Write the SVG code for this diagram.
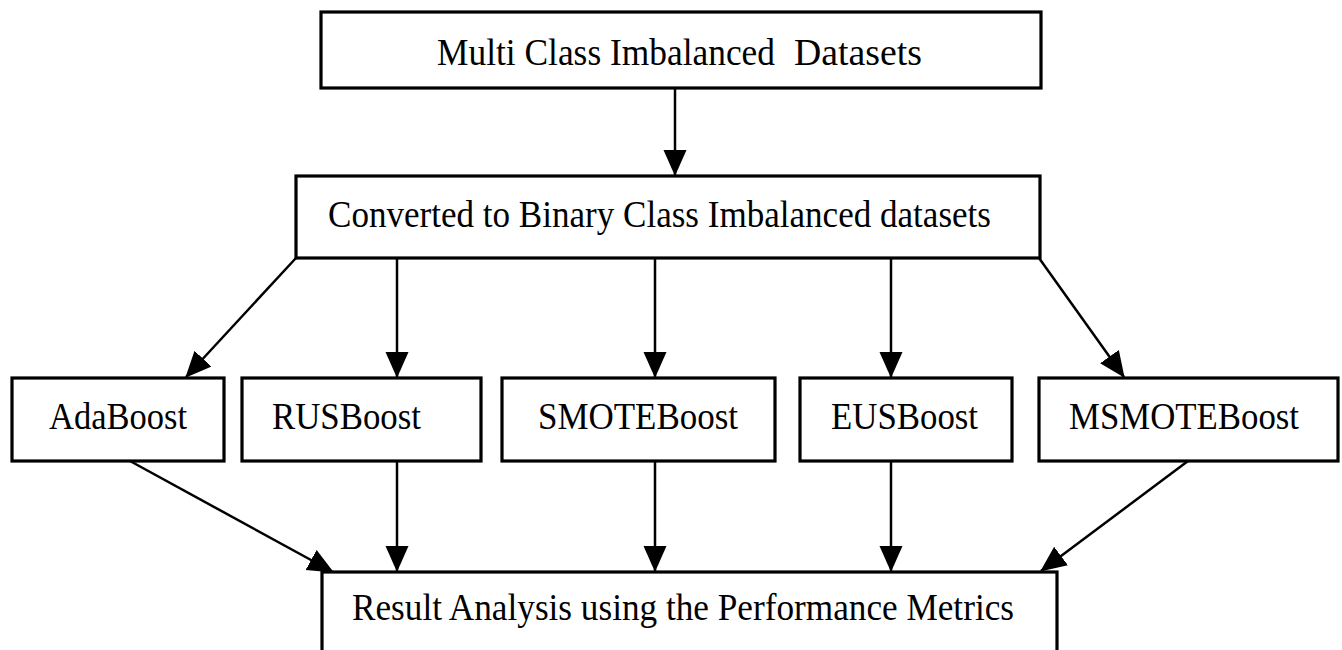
<svg xmlns="http://www.w3.org/2000/svg" width="1342" height="650" viewBox="0 0 1342 650">
<style>
.box{fill:#fff;stroke:#000;stroke-width:3.2}
.lbl{font-family:"Liberation Serif","Times New Roman",serif;font-size:38px;fill:#000}
.con{stroke:#000;stroke-width:2.5;fill:none;marker-end:url(#ah)}
</style>
<defs>
<marker id="ah" markerUnits="userSpaceOnUse" markerWidth="27" markerHeight="24" refX="25" refY="11.5" orient="auto">
<path d="M0,0 L26,11.5 L0,23 z" fill="#000"/>
</marker>
</defs>
<rect width="1342" height="650" fill="#fff"/>
<g id="connectors">
<line class="con" x1="675" y1="88" x2="675" y2="175"/>
<line class="con" x1="296" y1="258" x2="186" y2="377"/>
<line class="con" x1="397" y1="258" x2="397" y2="377"/>
<line class="con" x1="655" y1="258" x2="655" y2="377"/>
<line class="con" x1="891" y1="258" x2="891" y2="377"/>
<line class="con" x1="1039" y1="258" x2="1124" y2="377"/>
<line class="con" x1="130" y1="461" x2="333" y2="572"/>
<line class="con" x1="397" y1="461" x2="397" y2="571"/>
<line class="con" x1="655" y1="461" x2="655" y2="571"/>
<line class="con" x1="891" y1="449" x2="891" y2="571"/>
<line class="con" x1="1188" y1="461" x2="1041" y2="571"/>
</g>
<g id="n-multi">
<rect class="box" x="321" y="12" width="720" height="76"/>
<text class="lbl" x="437" y="65" font-size="38" textLength="338" lengthAdjust="spacingAndGlyphs">Multi Class Imbalanced</text>
<text class="lbl" x="794" y="65" font-size="46" textLength="128" lengthAdjust="spacingAndGlyphs">Datasets</text>
</g>
<g id="n-binary">
<rect class="box" x="296" y="176" width="744" height="82"/>
<text class="lbl" x="328" y="227" font-size="42" textLength="663" lengthAdjust="spacingAndGlyphs">Converted to Binary Class Imbalanced datasets</text>
</g>
<g id="n-ada">
<rect class="box" x="12" y="378" width="212" height="83"/>
<text class="lbl" x="49" y="429" textLength="138" lengthAdjust="spacingAndGlyphs">AdaBoost</text>
</g>
<g id="n-rus">
<rect class="box" x="242" y="378" width="239" height="83"/>
<text class="lbl" x="272" y="429" textLength="149" lengthAdjust="spacingAndGlyphs">RUSBoost</text>
</g>
<g id="n-smote">
<rect class="box" x="502" y="378" width="273" height="83"/>
<text class="lbl" x="538" y="429" textLength="200" lengthAdjust="spacingAndGlyphs">SMOTEBoost</text>
</g>
<g id="n-eus">
<rect class="box" x="800" y="378" width="212" height="83"/>
<text class="lbl" x="831" y="429" textLength="147" lengthAdjust="spacingAndGlyphs">EUSBoost</text>
</g>
<g id="n-msmote">
<rect class="box" x="1039" y="378" width="299" height="83"/>
<text class="lbl" x="1069" y="429" textLength="230" lengthAdjust="spacingAndGlyphs">MSMOTEBoost</text>
</g>
<g id="n-result">
<rect class="box" x="322" y="572" width="735" height="90"/>
<text class="lbl" x="352" y="620" textLength="662" lengthAdjust="spacingAndGlyphs">Result Analysis using the Performance Metrics</text>
</g>
</svg>
